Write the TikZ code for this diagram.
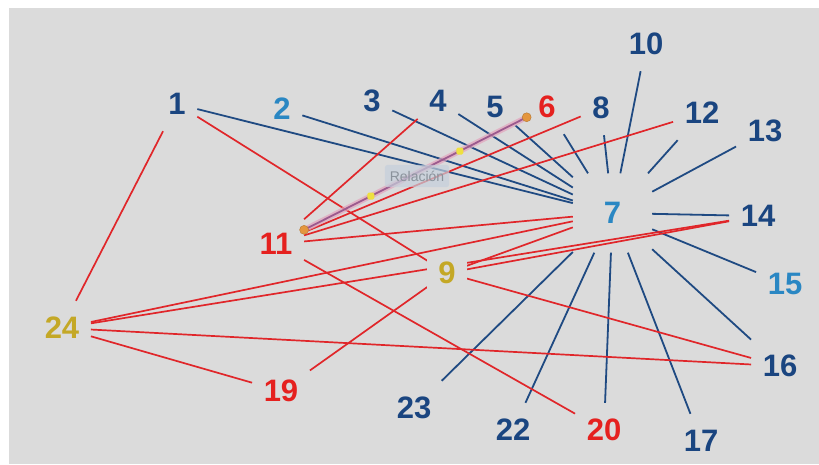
\documentclass[tikz,border=0pt]{standalone}
\usepackage{fontspec}
\setmainfont{Liberation Sans}
\definecolor{dblue}{HTML}{1A4580}
\definecolor{lblue}{HTML}{2A87C3}
\definecolor{nred}{HTML}{E5211F}
\definecolor{gold}{HTML}{C4A826}
\definecolor{bgray}{HTML}{DBDBDB}
\definecolor{redline}{HTML}{E0262A}
\definecolor{blueline}{HTML}{1F4A82}
\definecolor{selline}{HTML}{9C5A8E}
\definecolor{selglow}{HTML}{E3A3BC}
\definecolor{dotorange}{HTML}{E4963E}
\definecolor{dotyellow}{HTML}{EEE040}
\definecolor{tipfill}{HTML}{C5CFDB}
\definecolor{tiptext}{HTML}{8A929B}
\pgfdeclarelayer{bglayer}
\pgfdeclarelayer{edgelayer}
\pgfsetlayers{bglayer,edgelayer,main}
\begin{document}
\begin{tikzpicture}[x=1pt,y=-1pt,
  lbl/.style={font=\fontsize{31}{36}\selectfont\bfseries, inner xsep=11.5pt, inner ysep=0pt, minimum height=54pt},
  db/.style={lbl,text=dblue},
  lb/.style={lbl,text=lblue},
  rd/.style={lbl,text=nred},
  gd/.style={lbl,text=gold},
  bl/.style={draw=blueline,line width=1.8pt},
  rl/.style={draw=redline,line width=1.7pt},
  enddot/.style={circle,fill=dotorange,draw=dotorange!80!black,line width=0.4pt,inner sep=0pt,minimum size=9pt},
  middot/.style={rectangle,rounded corners=1.5pt,fill=dotyellow,inner sep=0pt,minimum size=7pt},
  tip/.style={rounded corners=3pt,fill=tipfill,fill opacity=0.7,text opacity=1,text=tiptext,font=\fontsize{14}{16}\selectfont,inner xsep=5pt,inner ysep=6pt}
]
\useasboundingbox (0,0) rectangle (819,464);
\begin{pgfonlayer}{bglayer}
\fill[bgray] (9,8) rectangle (819,464);
\end{pgfonlayer}
% nodes
\node[db] (n1) at (177,104) {1};
\node[lb] (n2) at (282,109) {2};
\node[db] (n3) at (372,101) {3};
\node[db] (n4) at (438,101) {4};
\node[db] (n5) at (495,107) {5};
\node[rd] (n6) at (547,107) {6};
\node[db] (n8) at (601,108) {8};
\node[db] (n10) at (646,44) {10};
\node[db] (n12) at (702,113) {12};
\node[db] (n13) at (765,131) {13};
\node[db] (n14) at (758,216) {14};
\node[lb] (n15) at (785,284) {15};
\node[db] (n16) at (780,366) {16};
\node[db] (n17) at (701,441) {17};
\node[rd] (n20) at (604,430) {20};
\node[db] (n22) at (513,430) {22};
\node[db] (n23) at (414,408) {23};
\node[rd] (n19) at (281,391) {19};
\node[gd] (n24) at (62,328) {24};
\node[rd] (n11) at (276,244) {11};
\node[gd,fill=bgray,minimum height=40pt,inner xsep=11pt] (n9) at (447,273) {9};
\node[lb,minimum width=79pt,minimum height=79pt,inner sep=0pt] (n7) at (612.5,213) {7};
% edges
\begin{pgfonlayer}{edgelayer}
\foreach \a in {1,2,3,4,5,6,8,10,12,13,14,15,16,17,20,22,23}
  \draw[bl] (n\a) -- (n7);
\draw[rl] (n1) -- (n24);
\draw[rl] (n1) -- (n9);
\draw[rl] (n11) -- (n4);
\draw[rl] (n11) -- (n8);
\draw[rl] (n11) -- (n12);
\draw[rl] (n11) -- (n7);
\draw[rl] (n11) -- (n20);
\draw[rl] (n24) -- (n7);
\draw[rl] (n24) -- (n14);
\draw[rl] (n24) -- (n16);
\draw[rl] (n24) -- (n19);
\draw[rl] (n9) -- (n7);
\draw[rl] (n9) -- (n14);
\draw[rl] (n9) -- (n16);
\draw[rl] (n19) -- (n9);
\draw[selglow,line width=5.5pt,opacity=0.7] (n11) -- (n6);
\draw[selline,line width=1.8pt] (n11) -- (n6)
  node[pos=0,enddot] (s0) {}
  node[pos=1,enddot] (s1) {}
  node[pos=0.3,middot] (m1) {}
  node[pos=0.7,middot] (m2) {};
\end{pgfonlayer}
\node[tip] (rel) at (417,176) {Relación};
\end{tikzpicture}
\end{document}
